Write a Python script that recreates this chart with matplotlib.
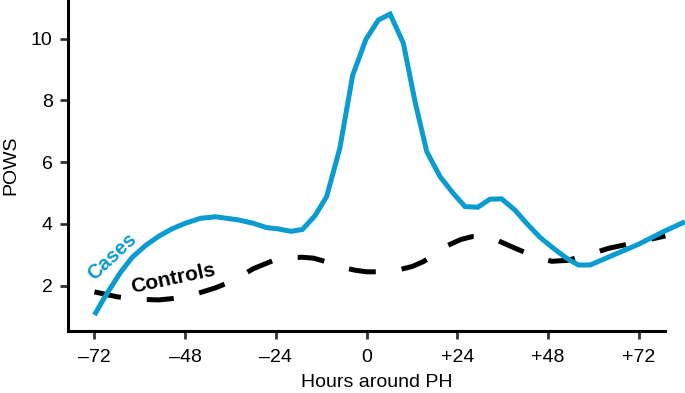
import matplotlib
matplotlib.use("Agg")
import matplotlib.pyplot as plt

# values
case_hours = [-72, -70, -68, -65, -62, -58.5, -55, -51.5, -48, -44, -40, -34, -30,
              -26.5, -23.5, -20, -17, -13.7, -10.6, -7.1, -3.7, -0.2, 3.1, 6.2, 9.7,
              12.8, 15.9, 19.4, 22.9, 26.0, 29.4, 32.6, 35.7, 39.2, 42.3, 45.8, 49.4,
              52.9, 56.0, 59.1, 65.2, 71.9, 78.5, 84.2]
case_pows = [1.05, 1.48, 1.88, 2.45, 2.92, 3.30, 3.60, 3.84, 4.02, 4.18, 4.23, 4.13, 4.02,
             3.88, 3.84, 3.76, 3.82, 4.26, 4.88, 6.45, 8.81, 9.97, 10.6, 10.79, 9.85,
             7.95, 6.34, 5.53, 4.99, 4.56, 4.54, 4.80, 4.81, 4.45, 4.02, 3.57, 3.21,
             2.89, 2.67, 2.67, 2.99, 3.34, 3.75, 4.07]

control_hours = [-72, -66, -60, -55, -50, -45, -40, -35, -30, -25, -21, -17, -14, -10,
                 -7, -3, 0, 4, 8, 12, 15, 18, 21, 25, 28, 31, 34, 38, 42, 46, 49, 53,
                 57, 64, 72, 79]
control_pows = [1.80, 1.64, 1.56, 1.54, 1.60, 1.74, 1.93, 2.18, 2.55, 2.80, 2.91, 2.92,
                2.89, 2.75, 2.61, 2.50, 2.45, 2.45, 2.50, 2.62, 2.78, 3.02, 3.28, 3.50,
                3.59, 3.59, 3.50, 3.28, 3.07, 2.88, 2.79, 2.82, 2.94, 3.21, 3.42, 3.61]

x_ticks = [-72, -48, -24, 0, 24, 48, 72]
x_tick_labels = ["\u201372", "\u201348", "\u201324", "0", "+24", "+48", "+72"]
y_ticks = [2, 4, 6, 8, 10]

blue = "#0a9bd0"


def main():
    plt.rcParams["font.family"] = ["Liberation Sans", "DejaVu Sans"]
    fig = plt.figure(figsize=(6.85, 3.93), dpi=100)
    ax = fig.add_axes([68 / 685, 62 / 393, 617 / 685, 331 / 393])

    ax.plot(case_hours, case_pows, color=blue, lw=3.6, clip_on=False,
            solid_joinstyle="miter", solid_capstyle="butt", zorder=3)
    ax.plot(control_hours, control_pows, color="black", lw=3.6, dashes=(5.4, 5.2),
            clip_on=False, zorder=2)

    ax.text(-67.4, 2.95, "Cases", color=blue, fontsize=14.5, fontweight="bold",
            rotation=43, ha="center", va="center")
    ax.text(-51.2, 2.24, "Controls", color="black", fontsize=15, fontweight="bold",
            rotation=12, ha="center", va="center")

    ax.set_xlim(-79, 84.2)
    ax.set_ylim(0.534, 11.246)
    ax.spines["top"].set_visible(False)
    ax.spines["right"].set_visible(False)
    ax.spines["bottom"].set_bounds(-79, 78.9)
    for s in ("left", "bottom"):
        ax.spines[s].set_linewidth(2.2)

    ax.set_xticks(x_ticks)
    ax.set_xticklabels(x_tick_labels)
    ax.set_yticks(y_ticks)
    ax.tick_params(axis="both", length=6, width=2.0, color="#333333",
                   labelsize=14, pad=5)
    ax.tick_params(axis="x", pad=7)

    ax.set_xlabel("Hours around PH", fontsize=14, labelpad=6)
    ax.set_ylabel("POWS", fontsize=14)
    ax.yaxis.set_label_coords(-0.078, 0.5)

    fig.savefig("out.png", dpi=100)


if __name__ == "__main__":
    main()
